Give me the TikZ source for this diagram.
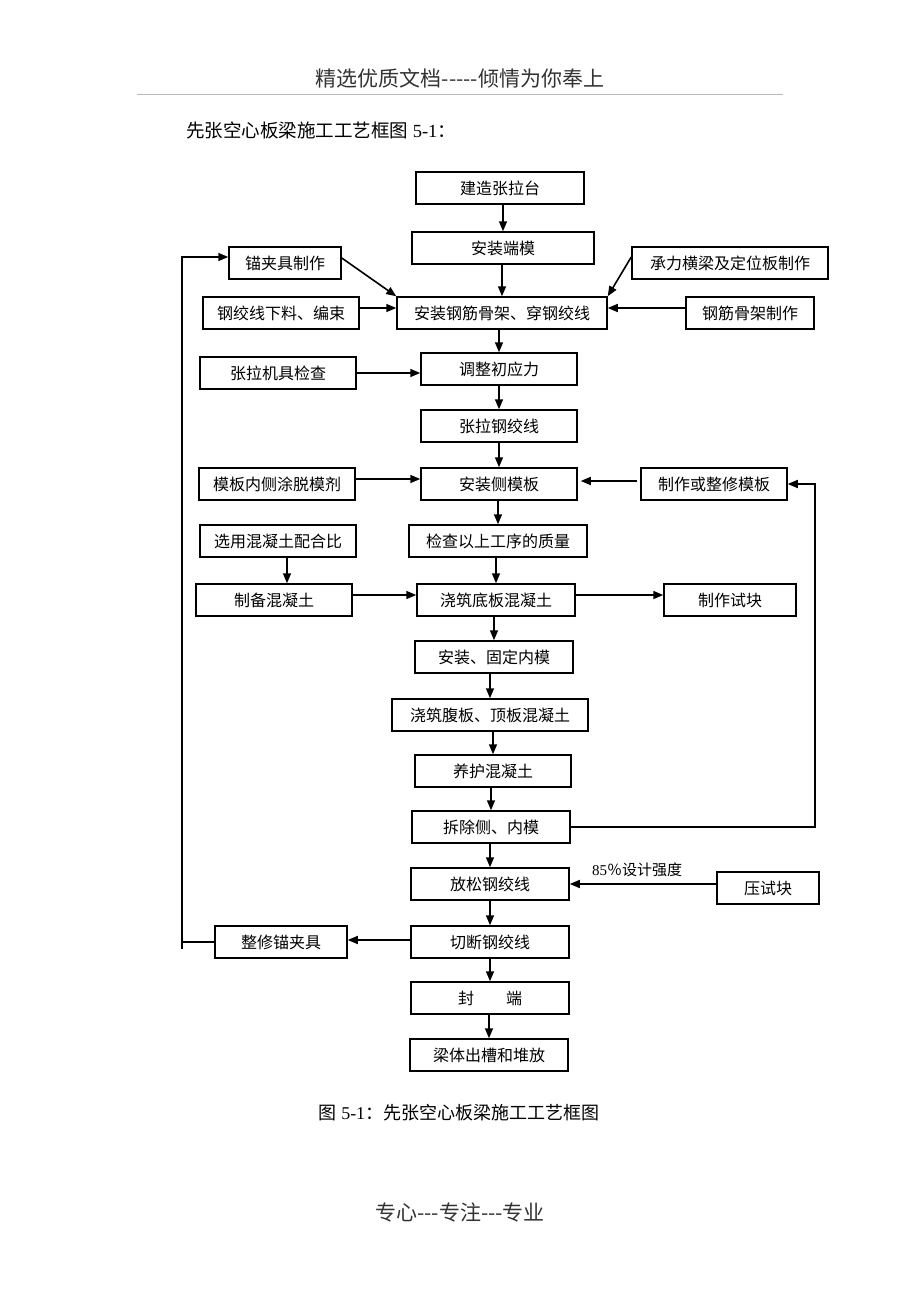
\documentclass[tikz,border=0pt]{standalone}
\usepackage{fontspec}
\setmainfont{Liberation Serif}
\newfontfamily\cjk{Noto Sans CJK SC}
\usetikzlibrary{arrows.meta}
\newcommand{\zihao}[1]{\fontsize{#1}{#1}\selectfont}
\tikzstyle{gongxu} = [draw, line width=1.5pt, minimum height=32pt, inner sep=2pt, font=\cjk\zihao{16}]
\tikzstyle{jiantou} = [-{Triangle[length=10pt,width=8pt]}, line width=1.6pt]
\tikzstyle{xian} = [line width=1.6pt]

\begin{document}
\begin{tikzpicture}[x=1pt,y=-1pt]
	\useasboundingbox (0,0) rectangle (920,1302);
	% page header and title
	\node[font=\cjk\zihao{21}, text=black!80] (yemei) at (460,78) {精选优质文档-{}-{}-{}-{}-倾情为你奉上};
	\draw[gray!55, line width=1pt] (137,94) -- (783,94);
	\node[anchor=west, inner sep=0pt, font=\zihao{18.5}] (biaoti) at (186,130) {{\cjk 先张空心板梁施工工艺框图} 5-1{\cjk ：}};
	% main line
	\node[gongxu, minimum width=168pt] (jianzao) at (500,188) {建造张拉台};
	\node[gongxu, minimum width=182pt] (duanmo) at (503,248) {安装端模};
	\node[gongxu, minimum width=210pt] (gujia) at (502,313) {安装钢筋骨架、穿钢绞线};
	\node[gongxu, minimum width=156pt] (tiaozheng) at (499,369) {调整初应力};
	\node[gongxu, minimum width=156pt] (zhangla) at (499,426) {张拉钢绞线};
	\node[gongxu, minimum width=156pt] (cemo) at (499,484) {安装侧模板};
	\node[gongxu, minimum width=178pt] (jiancha) at (498,541) {检查以上工序的质量};
	\node[gongxu, minimum width=158pt] (dibanc) at (496,600) {浇筑底板混凝土};
	\node[gongxu, minimum width=158pt] (neimo) at (494,657) {安装、固定内模};
	\node[gongxu, minimum width=196pt] (fuban) at (490,715) {浇筑腹板、顶板混凝土};
	\node[gongxu, minimum width=156pt] (yanghu) at (493,771) {养护混凝土};
	\node[gongxu, minimum width=158pt] (chaichu) at (491,827) {拆除侧、内模};
	\node[gongxu, minimum width=158pt] (fangsong) at (490,884) {放松钢绞线};
	\node[gongxu, minimum width=158pt] (qieduan) at (490,942) {切断钢绞线};
	\node[gongxu, minimum width=158pt] (fengduan) at (490,998) {封\hspace{2em}端};
	\node[gongxu, minimum width=158pt] (liangti) at (489,1055) {梁体出槽和堆放};
	% side boxes
	\node[gongxu, minimum width=112pt] (maojia) at (285,263) {锚夹具制作};
	\node[gongxu, minimum width=196pt] (chengli) at (730,263) {承力横梁及定位板制作};
	\node[gongxu, minimum width=156pt] (xialiao) at (281,313) {钢绞线下料、编束};
	\node[gongxu, minimum width=128pt] (gjzz) at (750,313) {钢筋骨架制作};
	\node[gongxu, minimum width=156pt] (zhangjiju) at (278,373) {张拉机具检查};
	\node[gongxu, minimum width=156pt] (tuomo) at (277,484) {模板内侧涂脱模剂};
	\node[gongxu, minimum width=146pt] (zhengxiu) at (714,484) {制作或整修模板};
	\node[gongxu, minimum width=156pt] (xuanyong) at (278,541) {选用混凝土配合比};
	\node[gongxu, minimum width=156pt] (zhibei) at (274,600) {制备混凝土};
	\node[gongxu, minimum width=132pt] (shikuai) at (730,600) {制作试块};
	\node[gongxu, minimum width=102pt] (yashikuai) at (768,888) {压试块};
	\node[gongxu, minimum width=132pt] (zxmjj) at (281,942) {整修锚夹具};
	\node[font=\zihao{15}] (qiangdu) at (637,870) {85{\cjk ％设计强度}};
	% arrows down the main line
	\foreach \a/\b in {jianzao/duanmo, duanmo/gujia, gujia/tiaozheng, tiaozheng/zhangla, zhangla/cemo, cemo/jiancha, jiancha/dibanc, dibanc/neimo, neimo/fuban, fuban/yanghu, yanghu/chaichu, chaichu/fangsong, fangsong/qieduan, qieduan/fengduan, fengduan/liangti}
		\draw[jiantou] (\b.north |- \a.south) -- (\b.north);
	% side arrows
	\draw[jiantou] ([yshift=5pt]maojia.east) -- (gujia.north west);
	\draw[jiantou] ([yshift=6pt]chengli.west) -- (gujia.north east);
	\draw[jiantou] ([yshift=5pt]xialiao.east) -- ([yshift=5pt]gujia.west);
	\draw[jiantou] ([yshift=5pt]gjzz.west) -- ([yshift=5pt]gujia.east);
	\draw[jiantou] (zhangjiju.east) -- (zhangjiju.east -| tiaozheng.west);
	\draw[jiantou] ([yshift=5pt]tuomo.east) -- ([yshift=5pt]tuomo.east -| cemo.west);
	\draw[jiantou, shorten <=3pt, shorten >=3pt] ([yshift=3pt]zhengxiu.west) -- ([yshift=3pt]zhengxiu.west -| cemo.east);
	\draw[jiantou] ([xshift=9pt]xuanyong.south) -- ([xshift=9pt]xuanyong.south |- zhibei.north);
	\draw[jiantou] ([yshift=5pt]zhibei.east) -- ([yshift=5pt]dibanc.west);
	\draw[jiantou] ([yshift=5pt]dibanc.east) -- ([yshift=5pt]shikuai.west);
	\draw[jiantou] (yashikuai.west |- fangsong.east) -- (fangsong.east);
	\draw[jiantou] ([yshift=2pt]qieduan.west) -- ([yshift=2pt]qieduan.west -| zxmjj.east);
	% return lines
	\coordinate (zuohui) at (182,942);
	\draw[xian] (zxmjj.west) -- (zuohui);
	\draw[jiantou] ([yshift=-7pt]zuohui) |- ([yshift=6pt]maojia.west);
	\coordinate (youhui) at (815,827);
	\draw[jiantou] (chaichu.east) -- (youhui) |- (zhengxiu.east);
	% caption and footer
	\node[font=\zihao{18}] (tuming) at (459,1113) {{\cjk 图} 5-1{\cjk ：先张空心板梁施工工艺框图}};
	\node[font=\cjk\zihao{21}, text=black!80] (yejiao) at (460,1212) {专心-{}-{}-专注-{}-{}-专业};
\end{tikzpicture}
\end{document}
